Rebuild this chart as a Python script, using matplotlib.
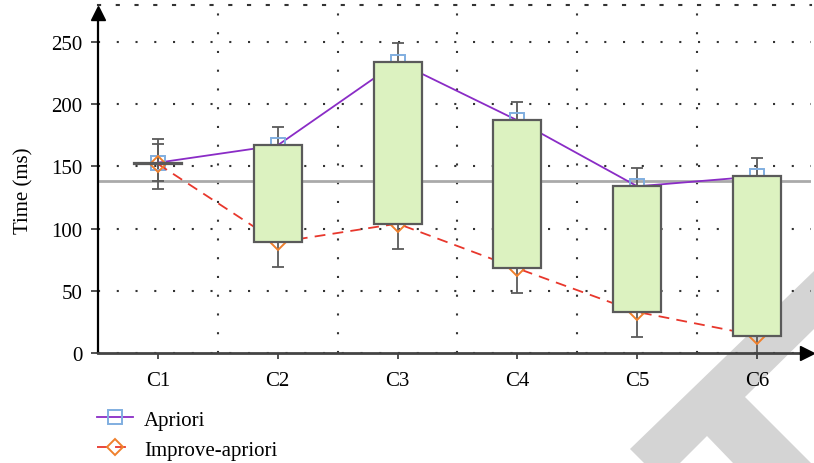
import numpy as np
import matplotlib
matplotlib.use("Agg")
import matplotlib.pyplot as plt
from matplotlib.patches import Polygon

plt.rcParams['font.family'] = ['Liberation Serif', 'DejaVu Serif']

categories = ['C1', 'C2', 'C3', 'C4', 'C5', 'C6']
apriori = [153, 167, 234, 187, 134, 142]
improve = [152, 89, 104, 68, 33, 14]
apriori_err = [15, 15, 15, 15, 15, 15]
improve_err = [20, 20, 20, 20, 20, 20]
ref_level = 138
yticks = [0, 50, 100, 150, 200, 250]

W, H = 814, 464
FS = 15
fig = plt.figure(figsize=(W / 100, H / 100), dpi=100)

# watermark in the lower right corner (pixel coords, y from top)
wm = [(630, 450), (814, 272), (814, 330), (745, 398), (811, 464),
      (733, 464), (707, 437), (680, 464), (644, 464)]
fig.patches.append(Polygon([(x / W, 1 - y / H) for x, y in wm], closed=True,
                           transform=fig.transFigure, facecolor='#d4d4d4',
                           edgecolor='none', zorder=-1))

ax = fig.add_axes([98 / W, (H - 354) / H, (811 - 98) / W, (354 - 5.7) / H])
ax.patch.set_alpha(0)

x = np.arange(len(categories))
ap = np.array(apriori)
im = np.array(improve)

ax.axhline(ref_level, color='#aaaaaa', lw=2, zorder=1)

ax.errorbar(x, ap, yerr=apriori_err, fmt='none', ecolor='#5a5a5a', elinewidth=1.3,
            capsize=4.5, capthick=1.3, zorder=2)
ax.errorbar(x, im, yerr=improve_err, fmt='none', ecolor='#5a5a5a', elinewidth=1.3,
            capsize=4.5, capthick=1.3, zorder=2)

ax.plot(x, ap, color='#8a2cc6', lw=1.3, marker='s', ms=10, mfc='none',
        mec='#80aee0', mew=1.4, zorder=3, label='Apriori')
ax.plot(x, im, color='#e8372c', lw=1.3, ls=(0, (6, 4)), marker='D', ms=8.5,
        mfc='none', mec='#f0802c', mew=1.4, zorder=3, label='Improve-apriori')

lo = np.minimum(ap, im)
hi = np.maximum(ap, im)
ax.bar(x, hi - lo, bottom=lo, width=0.4, color='#dcf2c0', edgecolor='#5a5a5a',
       linewidth=1.6, zorder=4)

ax.set_xlim(-0.5, 5.45)
ax.set_ylim(0, 280)
ax.set_xticks(x)
ax.set_xticklabels(categories, fontsize=FS)
ax.set_xticks(x[:-1] + 0.5, minor=True)
ax.set_yticks(yticks)
ax.tick_params(axis='y', labelsize=FS, length=5, width=1.2, color='#333333', pad=6)
ax.tick_params(axis='x', which='major', length=4, width=1.2, color='#333333', pad=9)
ax.tick_params(axis='x', which='minor', length=0)
ax.set_ylabel('Time (ms)', fontsize=FS)
ax.yaxis.set_label_coords(-0.09, 0.47)

dots = dict(color='#333333', lw=1.5, ls=(0, (1, 8)))
ax.grid(axis='y', which='major', **dots)
ax.grid(axis='x', which='minor', **dots)
ax.set_axisbelow(True)

ax.spines['right'].set_visible(False)
ax.spines['top'].set_linestyle((0, (1, 8)))
ax.spines['top'].set_linewidth(1.5)
ax.spines['top'].set_color('#333333')
ax.spines['left'].set_linewidth(1.6)
ax.spines['left'].set_color('black')
ax.spines['left'].set_bounds(0, 272)
ax.spines['bottom'].set_linewidth(2)
ax.spines['bottom'].set_color('#444444')
ax.spines['bottom'].set_zorder(6)

ax.plot(0, 0.975, '^', transform=ax.transAxes, clip_on=False, ms=10,
        color='black', zorder=7)
ax.plot(0.995, 0, '>', transform=ax.transAxes, clip_on=False, ms=10,
        color='black', zorder=7)

h, l = ax.get_legend_handles_labels()
fig.legend(h, l, loc='upper left', bbox_to_anchor=(97 / W, 1 - 411 / H),
           frameon=False, fontsize=FS, handlelength=1.75, handletextpad=0.5,
           labelspacing=0.5, borderaxespad=0, borderpad=0)

fig.savefig('out.png', dpi=100)
